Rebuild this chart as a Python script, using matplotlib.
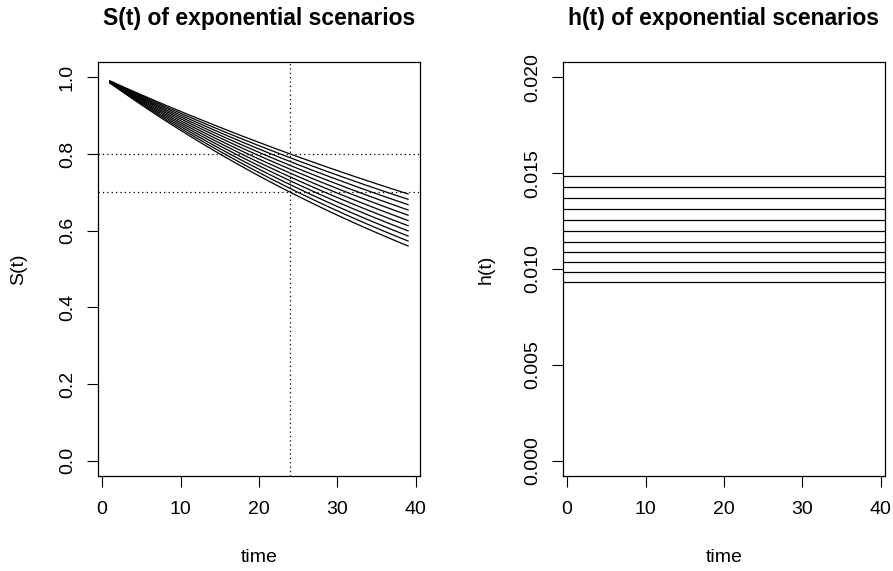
import numpy as np
import matplotlib
matplotlib.use('Agg')
import matplotlib.pyplot as plt

plt.rcParams['font.family'] = ['Liberation Sans', 'DejaVu Sans']

# constant hazard rates of the scenarios
hazards = [0.00930, 0.00982, 0.01035, 0.01089, 0.01143, 0.01199,
           0.01255, 0.01312, 0.01370, 0.01428, 0.01486]
times = list(range(1, 40))
ref_surv = [0.8, 0.7]
ref_time = 24

W, H = 893, 571
fig = plt.figure(figsize=(W / 100, H / 100), dpi=100)


def px_axes(x0, x1, y0, y1):
    return fig.add_axes([x0 / W, 1 - y1 / H, (x1 - x0) / W, (y1 - y0) / H])


def style(ax, title, yticks, yfmt):
    ax.set_xticks([0, 10, 20, 30, 40])
    ax.set_yticks(yticks)
    ax.set_yticklabels([yfmt.format(v) for v in yticks], rotation=90, va='center')
    ax.tick_params(length=8, width=0.8, pad=10, labelsize=14, direction='out')
    ax.tick_params(axis='y', pad=8)
    for s in ax.spines.values():
        s.set_linewidth(0.9)
    ax.text(0.5, 1.105, title, transform=ax.transAxes, ha='center', va='center',
            fontsize=16.5, fontweight='bold')
    ax.text(0.5, -0.196, 'time', transform=ax.transAxes, ha='center', va='center',
            fontsize=14)


t = np.array(times)

# survival curves
ax1 = px_axes(98, 420, 62, 476)
for h in hazards:
    ax1.plot(t, np.exp(-h * t), color='black', lw=0.9)
for s in ref_surv:
    ax1.axhline(s, color='black', lw=0.9, dashes=(1, 2.5))
ax1.axvline(ref_time, color='black', lw=0.9, dashes=(1, 2.5))
ax1.set_xlim(1 - 0.04 * 38, 39 + 0.04 * 38)
ax1.set_ylim(-0.04, 1.04)
style(ax1, 'S(t) of exponential scenarios', [0.0, 0.2, 0.4, 0.6, 0.8, 1.0], '{:.1f}')
ax1.text(-0.246, 0.5, 'S(t)', transform=ax1.transAxes, rotation=90,
         ha='center', va='center', fontsize=14)

# hazard functions
ax2 = px_axes(563, 885, 62, 476)
for h in hazards:
    ax2.axhline(h, color='black', lw=0.9)
ax2.set_xlim(1 - 0.04 * 38, 39 + 0.04 * 38)
ax2.set_ylim(-0.0008, 0.0208)
style(ax2, 'h(t) of exponential scenarios', [0.0, 0.005, 0.010, 0.015, 0.020], '{:.3f}')
ax2.text(-0.24, 0.5, 'h(t)', transform=ax2.transAxes, rotation=90,
         ha='center', va='center', fontsize=14)

fig.savefig('out.png', dpi=100)
